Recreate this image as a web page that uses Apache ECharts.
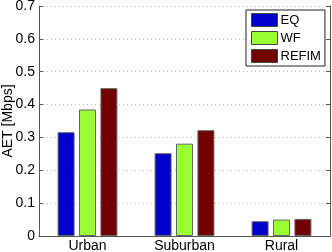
<!DOCTYPE html>
<html><head><meta charset="utf-8">
<script src="https://cdn.jsdelivr.net/npm/echarts@6/dist/echarts.min.js"></script>
<style>html,body{margin:0;padding:0;background:#fff}#c{width:332px;height:252px}</style>
</head><body><div id="c"></div>
<script>
const categories = ['Urban', 'Suburban', 'Rural'];
const seriesNames = ['EQ', 'WF', 'REFIM'];
const eqValues = [0.316, 0.252, 0.045];
const wfValues = [0.385, 0.281, 0.050];
const refimValues = [0.450, 0.322, 0.052];
const yTicks = [0, 0.1, 0.2, 0.3, 0.4, 0.5, 0.6, 0.7];
const yAxisTitle = 'AET [Mbps]';
const colors = ['#0000cc', '#99ff33', '#720000'];
const values = [eqValues, wfValues, refimValues];

const chart = echarts.init(document.getElementById('c'), null, {renderer: 'canvas'});
const font = 'Liberation Sans, Arial, sans-serif';
const axisCol = '#555';
chart.setOption({
  animation: false,
  textStyle: {fontFamily: font},
  grid: {left: 39, right: 2, top: 6, bottom: 16, containLabel: false, outerBoundsMode: 'none'},
  legend: {
    left: 246, top: 10, orient: 'vertical', itemWidth: 26, itemHeight: 13, itemGap: 4,
    padding: [3, 4, 3, 5], borderColor: '#222', borderWidth: 1, backgroundColor: '#fff',
    textStyle: {fontSize: 13, color: '#000', fontFamily: font, padding: [0, 0, 0, -2]},
    data: seriesNames.map(n => ({name: n, itemStyle: {borderColor: '#444', borderWidth: 1}})),
    icon: 'rect'
  },
  graphic: [{
    type: 'text', x: 8, y: 121, rotation: Math.PI / 2,
    style: {text: yAxisTitle, fontSize: 14, fontFamily: font, fill: '#000', align: 'center', verticalAlign: 'middle'}
  }],
  xAxis: [{
    type: 'category', data: categories,
    axisLine: {lineStyle: {color: axisCol, width: 1}},
    axisTick: {alignWithLabel: true, inside: true, length: 4, lineStyle: {color: axisCol}},
    axisLabel: {color: '#000', fontSize: 14, margin: 3, fontFamily: font},
    splitLine: {show: false}
  }, {
    type: 'category', data: categories, position: 'top',
    axisLine: {show: true, lineStyle: {color: axisCol}},
    axisTick: {alignWithLabel: true, inside: true, length: 4, lineStyle: {color: axisCol}},
    axisLabel: {show: false}
  }],
  yAxis: [{
    type: 'value', min: 0, max: 0.7, interval: 0.1,
    axisLine: {show: true, lineStyle: {color: axisCol}},
    axisTick: {show: true, inside: true, length: 4, lineStyle: {color: axisCol}},
    axisLabel: {color: '#000', fontSize: 14, margin: 4, fontFamily: font,
      formatter: v => { const t = yTicks.find(x => Math.abs(x - v) < 1e-9); return t === undefined ? '' : String(t); }},
    splitLine: {show: true, lineStyle: {color: '#bbb', type: [1, 3], width: 1}}
  }, {
    type: 'value', min: 0, max: 0.7, interval: 0.1, position: 'right',
    axisLine: {show: true, lineStyle: {color: axisCol}},
    axisTick: {show: true, inside: true, length: 4, lineStyle: {color: axisCol}},
    axisLabel: {show: false}, splitLine: {show: false}
  }],
  series: seriesNames.map((n, i) => ({
    name: n, type: 'bar', data: values[i], barWidth: 17, barGap: '26%',
    itemStyle: {color: colors[i], borderColor: '#666', borderWidth: 1}
  }))
});
</script></body></html>
